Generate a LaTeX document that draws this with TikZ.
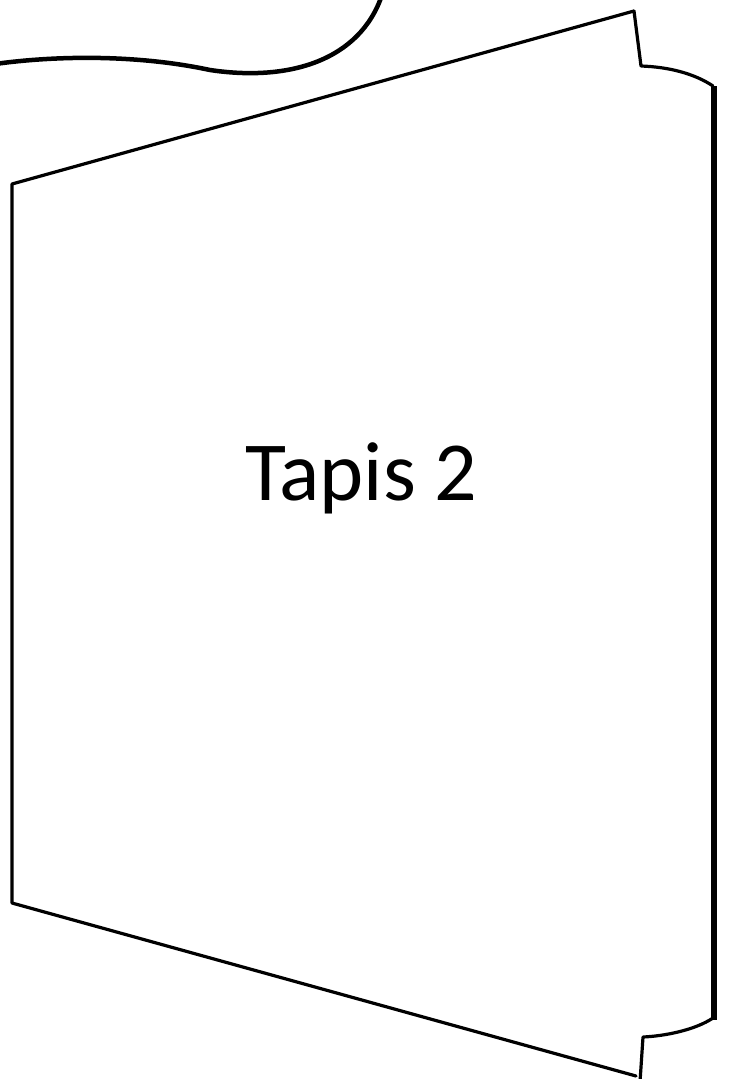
\documentclass[tikz,border=0pt]{standalone}
\usepackage{fontspec}
\setmainfont{Carlito}

\begin{document}
\begin{tikzpicture}[x=1pt,y=-1pt,line join=round,line cap=round,edge/.style={line width=3.2pt},thick edge/.style={line width=6pt},curl/.style={line width=4.5pt}]
\useasboundingbox (0,0) rectangle (729,1079);
\draw[curl] (-5,64) .. controls (60,55) and (140,55) .. (210,70) .. controls (290,82) and (360,60) .. (382,-5);
\draw[edge] (634,11) -- (12,184) -- (12,903) -- (636,1076);
\draw[edge] (634,11) -- (641,66) .. controls (670,67) and (695,74) .. (713,86);
\draw[thick edge,line cap=butt] (714,86) -- (714,1020);
\draw[edge] (713,1018) .. controls (695,1030) and (665,1036) .. (643,1037) -- (640,1082);
\node[font=\fontsize{84}{92}\selectfont,anchor=base] (label) at (361.5,500) {Tapis 2};
\end{tikzpicture}
\end{document}
